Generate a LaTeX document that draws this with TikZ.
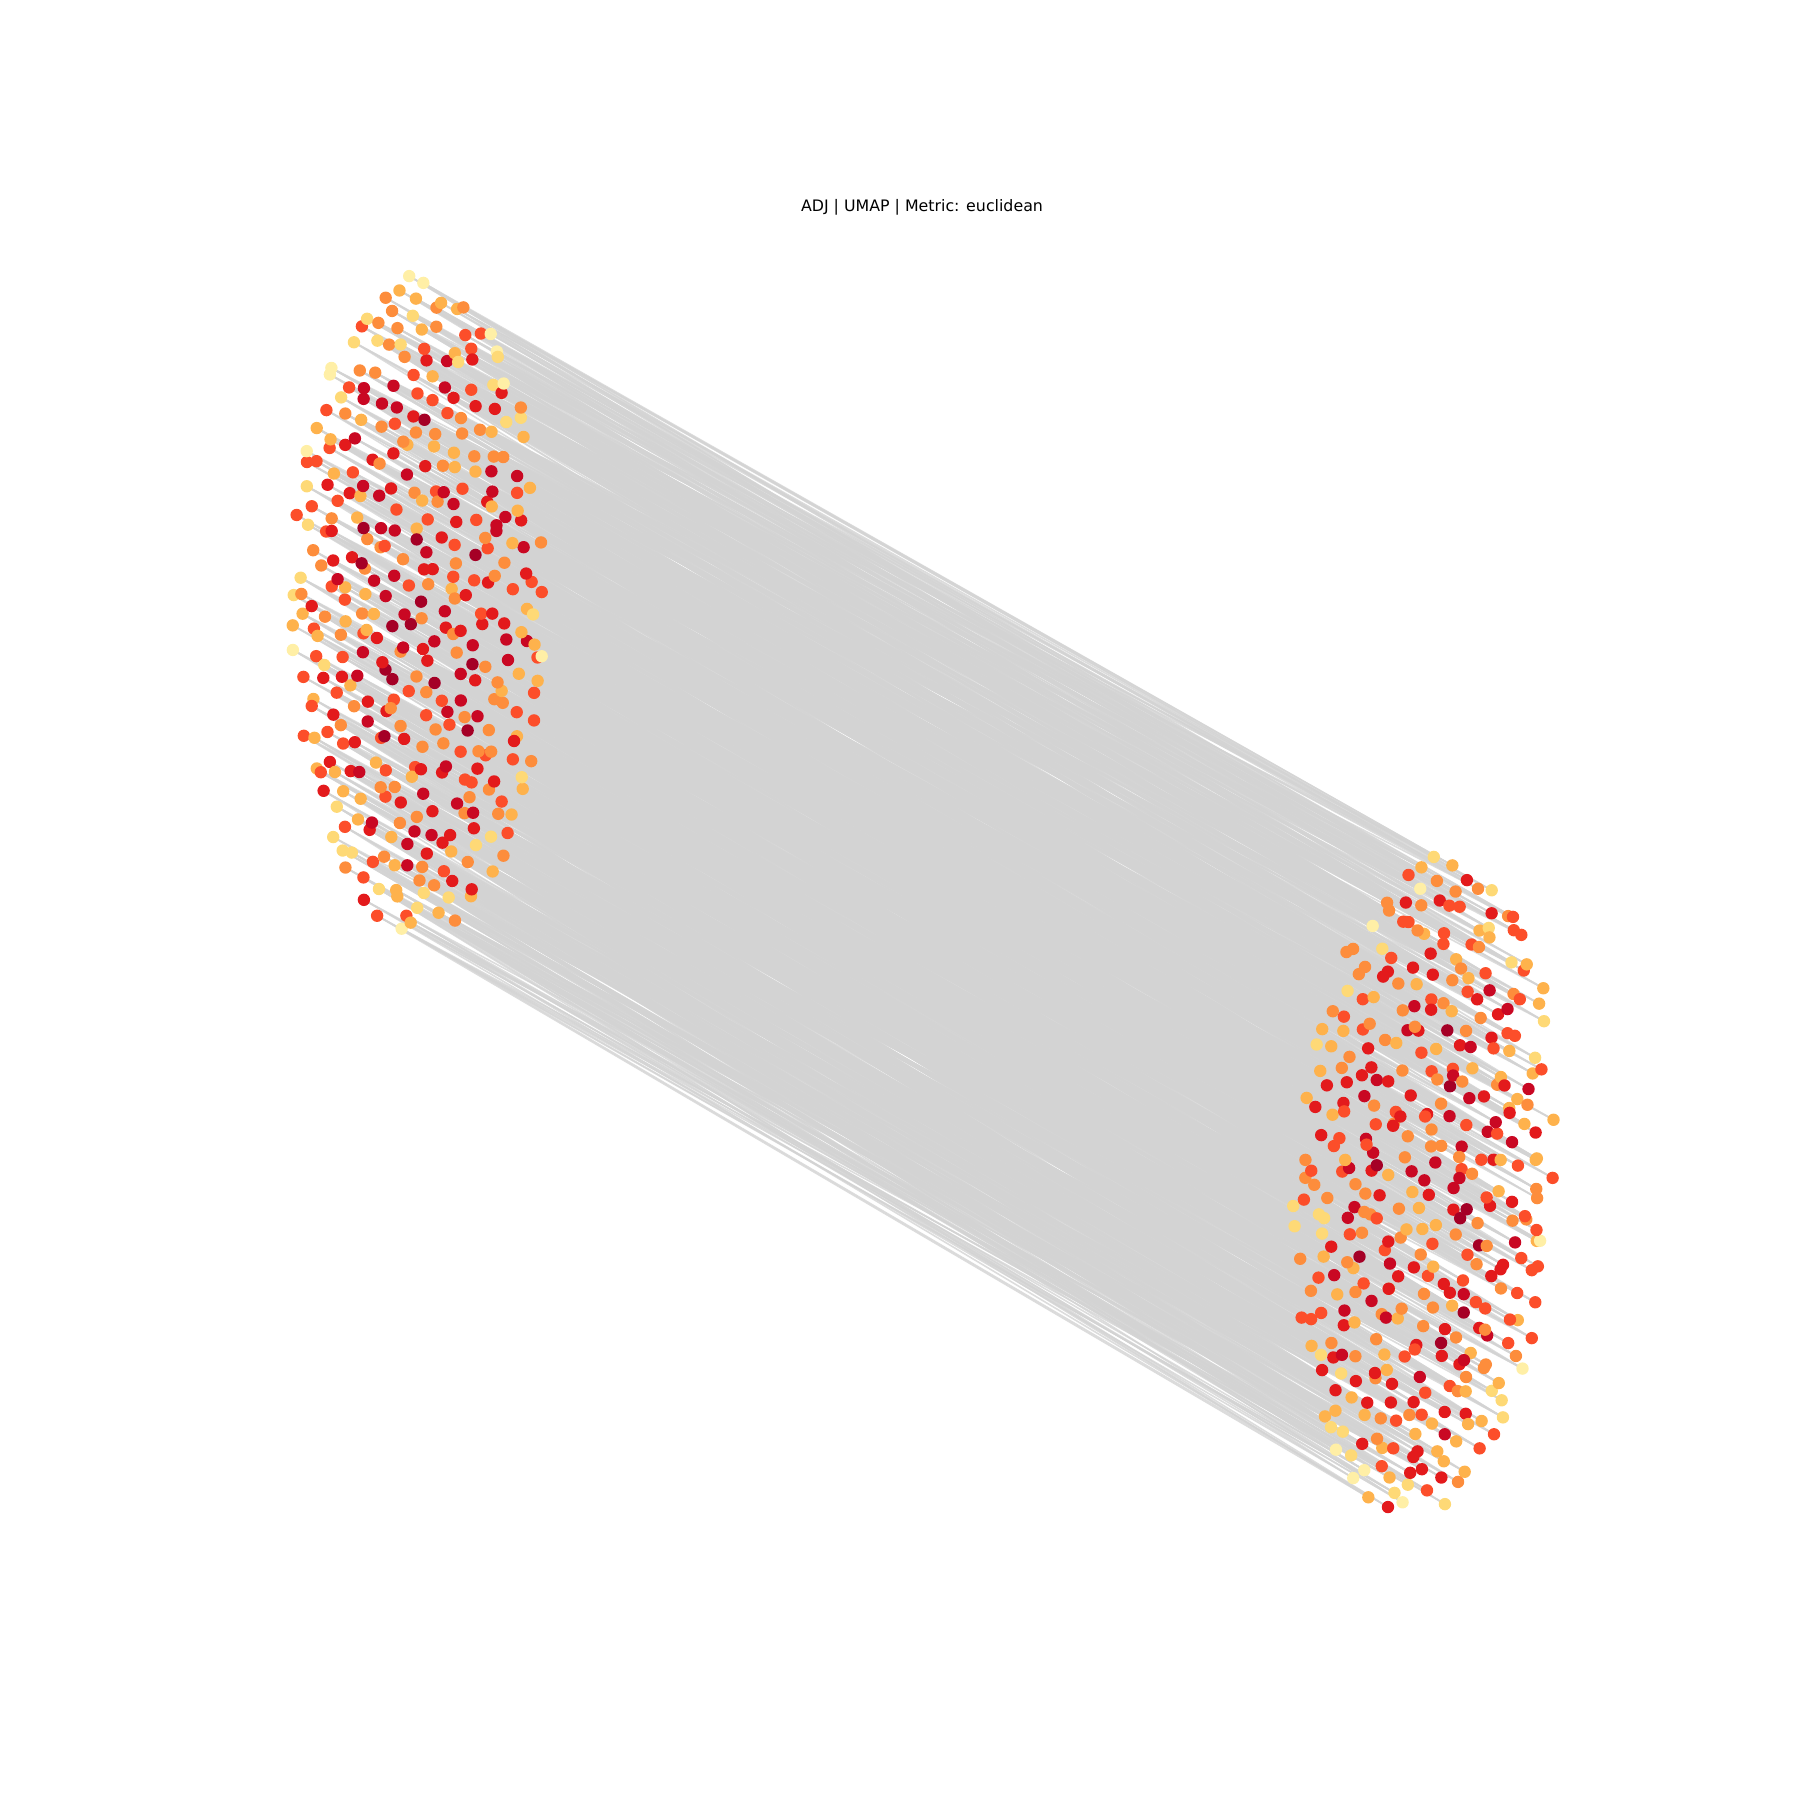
\documentclass[tikz,border=0pt]{standalone}
\usepackage{fontspec}
\setmainfont{DejaVu Sans}
\usepackage{xcolor}
\definecolor{yor0}{HTML}{FFEFA6}
\definecolor{yor1}{HTML}{FED976}
\definecolor{yor2}{HTML}{FEB24C}
\definecolor{yor3}{HTML}{FD8D3C}
\definecolor{yor4}{HTML}{FC4E2A}
\definecolor{yor5}{HTML}{E31A1C}
\definecolor{yor6}{HTML}{C90823}
\definecolor{yor7}{HTML}{A50026}
\definecolor{edgec}{RGB}{211,211,211}
\tikzset{
  edge/.style={draw=edgec, line width=0.45pt, opacity=0.8},
  title/.style={font=\fontsize{4.5}{5.5}\selectfont, inner sep=0pt}
}

\begin{document}
\begin{tikzpicture}
  \useasboundingbox (0,0) rectangle (18,18);
  \pgfmathsetseed{4213}
  \node[title] (ttl) at (9.22,15.93) {ADJ | UMAP | Metric: euclidean};

  \foreach \gx in {-7,...,7} {
    \foreach \gy in {-20,...,20} {
      \pgfmathsetmacro\ux{(\gx+0.5*mod(abs(\gy),2))*0.2+0.085*rand}
      \pgfmathsetmacro\uy{\gy*0.173+0.085*rand}
      \pgfmathsetmacro\rr{(\ux/1.28)^2+(\uy/3.34)^2}
      \pgfmathtruncatemacro\inside{\rr<1}
      \ifnum\inside=1
        \pgfmathsetmacro\vx{\ux+0.05*rand+0.06*\uy}
        \pgfmathsetmacro\vy{\uy+0.05*rand}
        \coordinate (l-\gx-\gy) at (4.19+\ux,11.93+\uy);
        \coordinate (r-\gx-\gy) at (14.25+\vx,6.12+\vy);
        \pgfmathtruncatemacro\lk{max(0,min(7,8*(0.32*(1-\rr*\rr)+0.62*rnd)))}
        \pgfmathtruncatemacro\rk{max(0,min(7,8*(0.32*(1-\rr*\rr)+0.62*rnd)))}
        \expandafter\xdef\csname lk-\gx-\gy\endcsname{\lk}
        \expandafter\xdef\csname rk-\gx-\gy\endcsname{\rk}
      \fi
    }
  }

  \foreach \gx in {-7,...,7} {
    \foreach \gy in {-20,...,20} {
      \ifcsname pgf@sh@ns@l-\gx-\gy\endcsname
        \foreach \dx/\dy in {0/0,0/1,1/0,-1/-1,0/-2,1/2} {
          \pgfmathtruncatemacro\nx{\gx+\dx}
          \pgfmathtruncatemacro\ny{\gy+\dy}
          \ifcsname pgf@sh@ns@r-\nx-\ny\endcsname
            \draw[edge] (l-\gx-\gy) -- (r-\nx-\ny);
          \fi
        }
      \fi
    }
  }

  \foreach \gx in {-7,...,7} {
    \foreach \gy in {-20,...,20} {
      \ifcsname pgf@sh@ns@l-\gx-\gy\endcsname
        \fill[yor\csname lk-\gx-\gy\endcsname] (l-\gx-\gy) circle (0.062);
        \fill[yor\csname rk-\gx-\gy\endcsname] (r-\gx-\gy) circle (0.062);
      \fi
    }
  }
\end{tikzpicture}
\end{document}
